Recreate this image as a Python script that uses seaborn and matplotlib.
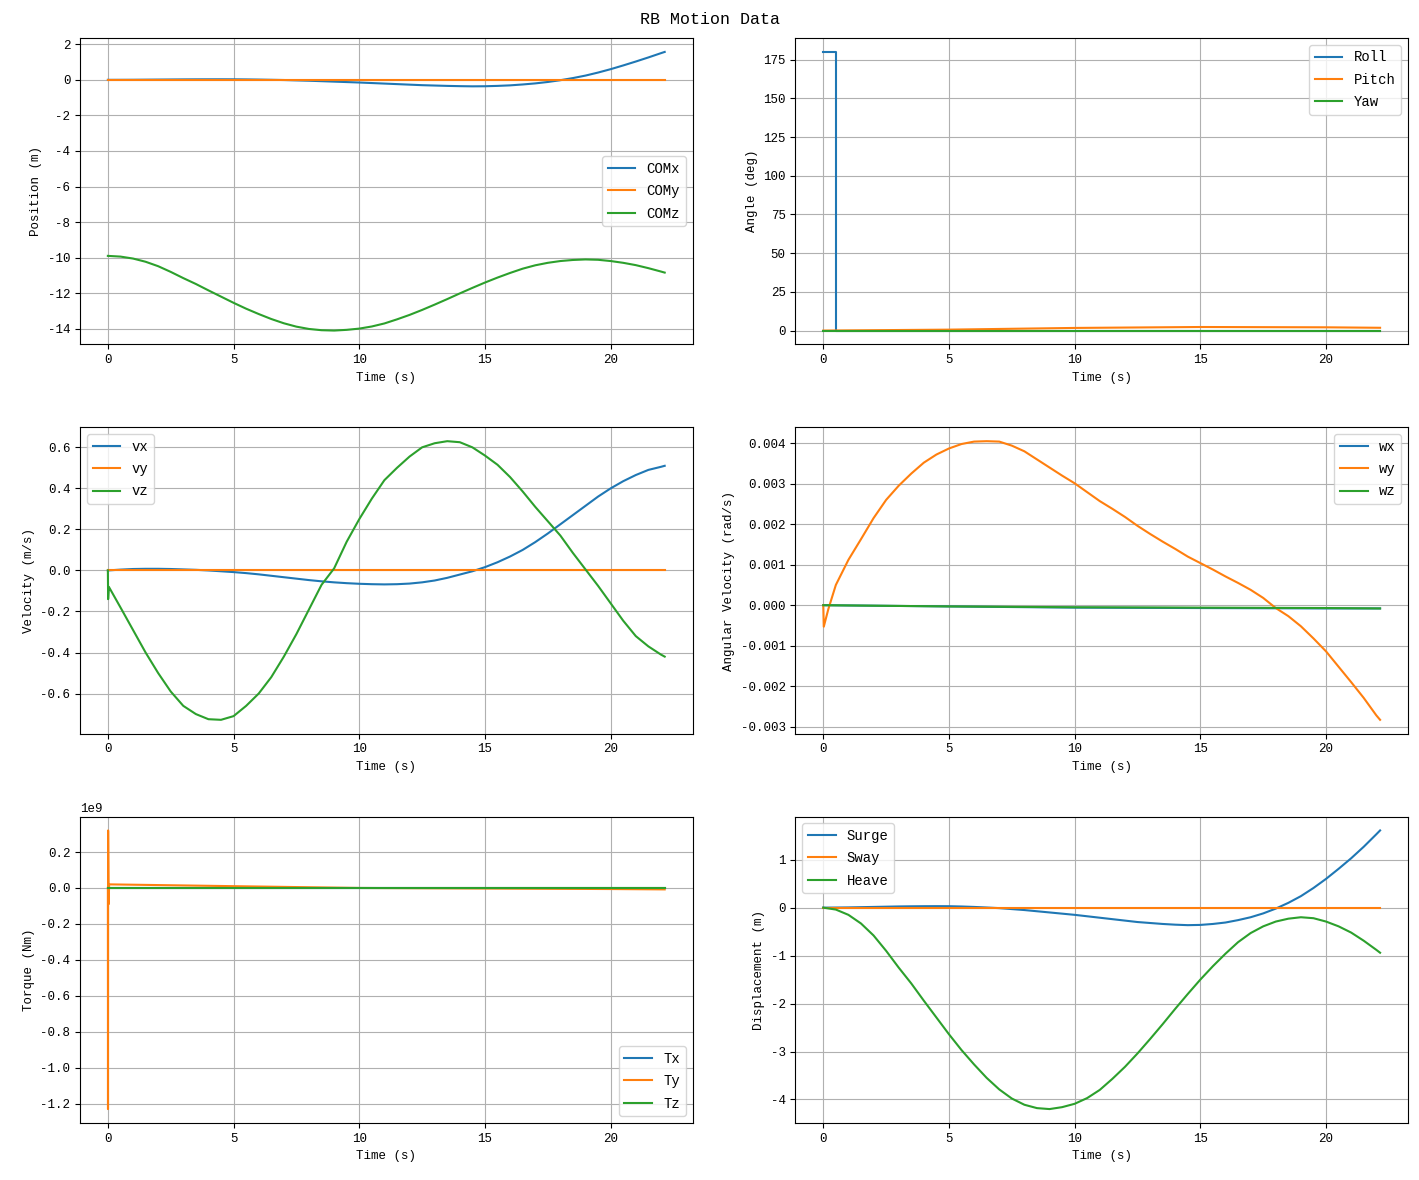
import matplotlib
matplotlib.use("Agg")
import matplotlib.pyplot as plt
import seaborn as sns

# time grid (s)
time_half = [0, 0.5, 1, 1.5, 2, 2.5, 3, 3.5, 4, 4.5, 5, 5.5, 6, 6.5, 7, 7.5, 8, 8.5, 9, 9.5,
             10, 10.5, 11, 11.5, 12, 12.5, 13, 13.5, 14, 14.5, 15, 15.5, 16, 16.5, 17, 17.5,
             18, 18.5, 19, 19.5, 20, 20.5, 21, 21.5, 22, 22.15]
time_coarse = [0, 5, 10, 15, 20, 22.15]

# position of centre of mass (m)
com_x = [0, 0.002, 0.005, 0.01, 0.015, 0.02, 0.025, 0.028, 0.03, 0.031, 0.03, 0.024, 0.015,
         0.003, -0.01, -0.03, -0.05, -0.075, -0.1, -0.125, -0.15, -0.18, -0.21, -0.24, -0.27,
         -0.3, -0.32, -0.34, -0.355, -0.365, -0.36, -0.34, -0.31, -0.26, -0.2, -0.12, -0.02,
         0.1, 0.24, 0.41, 0.6, 0.81, 1.03, 1.26, 1.5, 1.57]
com_y = [0, 0, 0, 0, 0, 0]
com_z = [-9.9, -9.94, -10.05, -10.23, -10.48, -10.8, -11.15, -11.48, -11.84, -12.19, -12.54,
         -12.87, -13.17, -13.45, -13.69, -13.88, -14.01, -14.08, -14.1, -14.06, -13.99, -13.87,
         -13.7, -13.47, -13.22, -12.94, -12.64, -12.33, -12.01, -11.7, -11.4, -11.12, -10.86,
         -10.62, -10.43, -10.29, -10.19, -10.13, -10.1, -10.12, -10.19, -10.29, -10.42, -10.59,
         -10.78, -10.84]

# angles (deg)
t_roll = [0, 0.5, 0.5, 22.15]
roll = [180, 180, 0, 0]
pitch = [0, 0.6, 1.7, 2.3, 2.1, 1.8]
yaw = [0, 0, 0, 0, 0, 0]

# linear velocity (m/s)
vx = [0, 0.004, 0.007, 0.008, 0.008, 0.007, 0.005, 0.003, 0.0, -0.004, -0.008, -0.013, -0.019,
      -0.026, -0.033, -0.04, -0.047, -0.053, -0.058, -0.062, -0.065, -0.067, -0.068, -0.067,
      -0.064, -0.058, -0.049, -0.036, -0.02, -0.004, 0.016, 0.04, 0.068, 0.1, 0.138, 0.18,
      0.225, 0.27, 0.315, 0.36, 0.4, 0.435, 0.465, 0.49, 0.505, 0.51]
vy = [0, 0, 0, 0, 0, 0]
t_vz = [0, 0.01, 0.04, 0.5, 1, 1.5, 2, 2.5, 3, 3.5, 4, 4.5, 5, 5.5, 6, 6.5, 7, 7.5, 8, 8.5, 9,
        9.5, 10, 10.5, 11, 11.5, 12, 12.5, 13, 13.5, 14, 14.5, 15, 15.5, 16, 16.5, 17, 17.5,
        18, 18.5, 19, 19.5, 20, 20.5, 21, 21.5, 22, 22.15]
vz = [0, -0.14, -0.08, -0.18, -0.29, -0.4, -0.5, -0.59, -0.66, -0.7, -0.725, -0.728, -0.71,
      -0.66, -0.6, -0.52, -0.42, -0.31, -0.19, -0.07, 0.01, 0.14, 0.25, 0.35, 0.44, 0.5,
      0.555, 0.6, 0.62, 0.63, 0.625, 0.6, 0.56, 0.515, 0.455, 0.385, 0.31, 0.24, 0.17, 0.085,
      0.005, -0.075, -0.16, -0.245, -0.32, -0.37, -0.41, -0.42]

# angular velocity (rad/s)
wx = [0, -0.00003, -0.00006, -0.00007, -0.00008, -0.00008]
t_wy = [0, 0.02, 0.2, 0.5, 1, 1.5, 2, 2.5, 3, 3.5, 4, 4.5, 5, 5.5, 6, 6.5, 7, 7.5, 8, 8.5, 9,
        9.5, 10, 10.5, 11, 11.5, 12, 12.5, 13, 13.5, 14, 14.5, 15, 15.5, 16, 16.5, 17, 17.5,
        18, 18.5, 19, 19.5, 20, 20.5, 21, 21.5, 22, 22.15]
wy = [0, -0.00053, -0.0001, 0.0005, 0.00112, 0.00163, 0.00215, 0.0026, 0.00295, 0.00325,
      0.00352, 0.00372, 0.00387, 0.00398, 0.00404, 0.00405, 0.00404, 0.00394, 0.0038, 0.0036,
      0.0034, 0.0032, 0.00301, 0.00279, 0.00257, 0.00238, 0.00218, 0.00196, 0.00176, 0.00157,
      0.00139, 0.0012, 0.00104, 0.00088, 0.00071, 0.00055, 0.00038, 0.00018, -0.00007,
      -0.00027, -0.00052, -0.00082, -0.00114, -0.00152, -0.0019, -0.00229, -0.00272, -0.00283]
wz = [0, -0.00003, -0.00005, -0.00006, -0.00007, -0.00008]

# torque (Nm)
t_torque = [0, 0.005, 0.01, 0.03, 0.05, 5, 10, 15, 20, 22.15]
tx = [0, 0, 0, 0, 0, 0, 0, 0, 0, 0]
ty = [0, -1.23e9, 0.32e9, -0.09e9, 0.02e9, 0.01e9, 0.0, -0.003e9, -0.006e9, -0.008e9]
tz = [0, 0, 0, 0, 0, 0, 0, 0, 0, 0]

# displacement from start (m)
surge = [0, 0.002, 0.005, 0.01, 0.015, 0.02, 0.025, 0.028, 0.03, 0.031, 0.03, 0.024, 0.015,
         0.003, -0.01, -0.03, -0.05, -0.075, -0.1, -0.125, -0.15, -0.18, -0.21, -0.24, -0.27,
         -0.3, -0.32, -0.34, -0.355, -0.365, -0.36, -0.34, -0.31, -0.26, -0.2, -0.12, -0.02,
         0.1, 0.24, 0.41, 0.6, 0.81, 1.03, 1.27, 1.53, 1.61]
sway = [0, 0, 0, 0, 0, 0]
heave = [0, -0.04, -0.15, -0.33, -0.58, -0.9, -1.25, -1.58, -1.94, -2.29, -2.64, -2.97, -3.27,
         -3.55, -3.79, -3.98, -4.11, -4.18, -4.2, -4.16, -4.09, -3.97, -3.8, -3.57, -3.32,
         -3.04, -2.74, -2.43, -2.11, -1.8, -1.5, -1.22, -0.96, -0.72, -0.53, -0.39, -0.29,
         -0.23, -0.2, -0.22, -0.29, -0.39, -0.52, -0.69, -0.88, -0.94]

plt.rcParams['font.family'] = ['Liberation Mono', 'DejaVu Sans']
plt.rcParams['font.size'] = 9
plt.rcParams['axes.unicode_minus'] = False

colors = sns.color_palette("tab10")

fig, axes = plt.subplots(3, 2, figsize=(14.19, 11.8), dpi=100)
fig.suptitle("RB Motion Data", fontsize=12, y=0.99)


def draw(ax, series, ylabel, loc):
    for i, (t, y, name) in enumerate(series):
        sns.lineplot(x=t, y=y, ax=ax, color=colors[i], label=name,
                     sort=False, estimator=None, linewidth=1.5)
    ax.set_xlabel("Time (s)")
    ax.set_ylabel(ylabel)
    ax.grid(True)
    ax.legend(loc=loc, fontsize=10, labelspacing=0.6)


draw(axes[0, 0], [(time_half, com_x, "COMx"), (time_coarse, com_y, "COMy"),
                  (time_half, com_z, "COMz")], "Position (m)", "center right")
draw(axes[0, 1], [(t_roll, roll, "Roll"), (time_coarse, pitch, "Pitch"),
                  (time_coarse, yaw, "Yaw")], "Angle (deg)", "upper right")
draw(axes[1, 0], [(time_half, vx, "vx"), (time_coarse, vy, "vy"),
                  (t_vz, vz, "vz")], "Velocity (m/s)", "upper left")
draw(axes[1, 1], [(time_coarse, wx, "wx"), (t_wy, wy, "wy"),
                  (time_coarse, wz, "wz")], "Angular Velocity (rad/s)", "upper right")
draw(axes[2, 0], [(t_torque, tx, "Tx"), (t_torque, ty, "Ty"),
                  (t_torque, tz, "Tz")], "Torque (Nm)", "lower right")
draw(axes[2, 1], [(time_half, surge, "Surge"), (time_coarse, sway, "Sway"),
                  (time_half, heave, "Heave")], "Displacement (m)", "upper left")

fig.subplots_adjust(left=0.0564, right=0.9922, top=0.9678, bottom=0.0483,
                    wspace=0.168, hspace=0.27)
fig.savefig("out.png", dpi=100)
